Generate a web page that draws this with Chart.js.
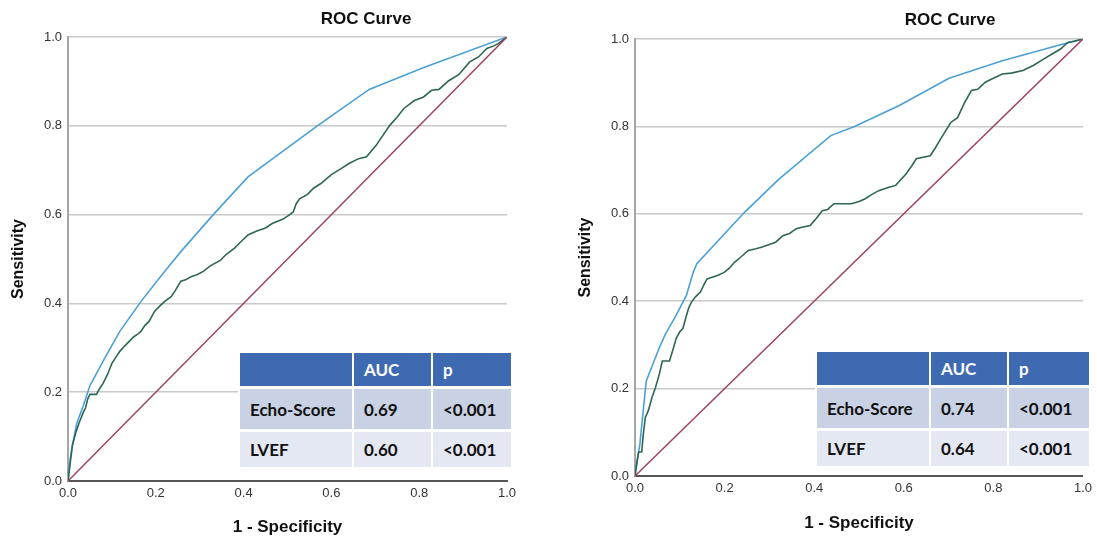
<!DOCTYPE html>
<html>
<head>
<meta charset="utf-8">
<script src="https://cdn.jsdelivr.net/npm/chart.js@4.4.1/dist/chart.umd.min.js"></script>
<style>
  body { margin: 0; background: #fff; width: 1097px; height: 539px; overflow: hidden; position: relative; }
  canvas { position: absolute; top: 0; }
  #leftChart { left: 0; }
  #rightChart { left: 567px; }
  table.auc {
    position: absolute; border-collapse: separate; border-spacing: 2px 3px; table-layout: fixed;
    font-family: Lato, "Open Sans", sans-serif; font-weight: bold; font-size: 17px;
    background: #fff; color: #111;
  }
  table.auc td { padding: 0 0 0 10px; vertical-align: middle; white-space: nowrap; overflow: hidden; }
  table.auc tr.head td { background: #3e6ab2; color: #fff; height: 33px; }
  table.auc tr.r1 td { background: #c9d1e4; height: 40px; }
  table.auc tr.r2 td { background: #e4e8f3; height: 35px; }
  #leftTable { left: 238px; top: 350px; width: 273px; }
  #rightTable { left: 815px; top: 349px; width: 274px; }
</style>
</head>
<body>
<canvas id="leftChart" width="540" height="539"></canvas>
<canvas id="rightChart" width="530" height="539"></canvas>
<table class="auc" id="leftTable"></table>
<table class="auc" id="rightTable"></table>
<script>
// reference line
const diagX = [0, 1];
const diagY = [0, 1];

// left panel, Echo-Score
const leftEchoX = [0, 0.005, 0.01, 0.02, 0.035, 0.05, 0.08, 0.118, 0.166, 0.22, 0.26, 0.331, 0.41, 0.568, 0.686, 0.812, 1];
const leftEchoY = [0, 0.05, 0.08, 0.13, 0.17, 0.215, 0.27, 0.337, 0.404, 0.472, 0.52, 0.6, 0.685, 0.8, 0.882, 0.932, 1];

// left panel, LVEF
const leftLvefX = [0, 0.005, 0.01, 0.018, 0.025, 0.035, 0.04, 0.045, 0.05, 0.065, 0.07, 0.08, 0.09, 0.1, 0.11, 0.118,
  0.13, 0.14, 0.15, 0.158, 0.166, 0.175, 0.185, 0.197, 0.21, 0.221, 0.235, 0.245, 0.257, 0.268, 0.28, 0.295, 0.308,
  0.325, 0.347, 0.36, 0.38, 0.395, 0.41, 0.43, 0.45, 0.465, 0.49, 0.505, 0.513, 0.52, 0.528, 0.545, 0.56, 0.576,
  0.6, 0.623, 0.64, 0.662, 0.68, 0.702, 0.715, 0.733, 0.75, 0.765, 0.789, 0.81, 0.828, 0.845, 0.868, 0.89, 0.915,
  0.935, 0.954, 0.97, 0.98, 1];
const leftLvefY = [0, 0.04, 0.08, 0.11, 0.13, 0.155, 0.165, 0.185, 0.195, 0.195, 0.205, 0.22, 0.24, 0.265, 0.28, 0.292,
  0.305, 0.315, 0.325, 0.33, 0.337, 0.35, 0.36, 0.382, 0.395, 0.405, 0.415, 0.43, 0.45, 0.453, 0.46, 0.465, 0.472,
  0.485, 0.497, 0.51, 0.525, 0.54, 0.554, 0.563, 0.57, 0.58, 0.59, 0.6, 0.606, 0.625, 0.636, 0.645, 0.66, 0.67,
  0.69, 0.704, 0.715, 0.726, 0.73, 0.756, 0.775, 0.801, 0.82, 0.839, 0.857, 0.865, 0.88, 0.882, 0.902, 0.915, 0.944,
  0.955, 0.974, 0.98, 0.985, 1];

// right panel, Echo-Score
const rightEchoX = [0, 0.011, 0.025, 0.054, 0.069, 0.092, 0.115, 0.13, 0.138, 0.245, 0.322, 0.437, 0.49, 0.59, 0.701, 0.82, 0.958, 1];
const rightEchoY = [0, 0.074, 0.217, 0.293, 0.327, 0.368, 0.414, 0.466, 0.486, 0.604, 0.68, 0.779, 0.8, 0.848, 0.91, 0.95, 0.989, 1];

// right panel, LVEF
const rightLvefX = [0, 0.004, 0.008, 0.015, 0.018, 0.023, 0.03, 0.038, 0.045, 0.054, 0.061, 0.077, 0.085, 0.092, 0.1,
  0.107, 0.115, 0.12, 0.126, 0.135, 0.146, 0.155, 0.161, 0.172, 0.184, 0.199, 0.21, 0.222, 0.235, 0.253, 0.27, 0.284,
  0.3, 0.314, 0.33, 0.345, 0.36, 0.375, 0.391, 0.405, 0.418, 0.43, 0.444, 0.483, 0.5, 0.513, 0.53, 0.544, 0.565,
  0.582, 0.595, 0.605, 0.618, 0.628, 0.659, 0.67, 0.682, 0.705, 0.72, 0.736, 0.751, 0.765, 0.782, 0.8, 0.82, 0.84,
  0.866, 0.89, 0.912, 0.93, 0.95, 0.966, 0.98, 1];
const rightLvefY = [0, 0.03, 0.055, 0.055, 0.09, 0.134, 0.15, 0.18, 0.2, 0.232, 0.263, 0.263, 0.29, 0.315, 0.33,
  0.338, 0.368, 0.385, 0.398, 0.41, 0.421, 0.44, 0.451, 0.455, 0.459, 0.466, 0.475, 0.489, 0.5, 0.516, 0.52, 0.524,
  0.53, 0.535, 0.55, 0.555, 0.566, 0.57, 0.573, 0.59, 0.607, 0.61, 0.623, 0.623, 0.628, 0.634, 0.645, 0.653, 0.66,
  0.665, 0.68, 0.691, 0.71, 0.726, 0.733, 0.75, 0.771, 0.809, 0.82, 0.855, 0.882, 0.885, 0.901, 0.91, 0.92, 0.922,
  0.928, 0.94, 0.954, 0.965, 0.977, 0.992, 0.995, 1];

// table contents
const tableHead = ["", "AUC", "p"];
const markers = ["Echo-Score", "LVEF"];
const leftAuc = ["0.69", "0.60"];
const rightAuc = ["0.74", "0.64"];
const pValues = ["<0.001", "<0.001"];

const pairs = (xs, ys) => xs.map((x, i) => ({ x: x, y: ys[i] }));

const headline = {
  id: "headline",
  afterDraw(chart, args, opts) {
    const ctx = chart.ctx;
    ctx.save();
    ctx.font = "bold 17px 'Liberation Sans', Arial, sans-serif";
    ctx.fillStyle = "#111";
    ctx.textAlign = "center";
    ctx.textBaseline = "middle";
    ctx.fillText(opts.text, opts.x, opts.y);
    ctx.restore();
  }
};

function rocChart(id, echoX, echoY, lvefX, lvefY, pad, axisH, titlePos) {
  const tickFont = { family: "'Liberation Sans', Arial, sans-serif", size: 13 };
  return new Chart(document.getElementById(id), {
    type: "scatter",
    data: {
      datasets: [
        { label: "Reference", data: pairs(diagX, diagY), borderColor: "#9c4262", borderWidth: 1.5 },
        { label: "LVEF", data: pairs(lvefX, lvefY), borderColor: "#2f6653", borderWidth: 1.6 },
        { label: "Echo-Score", data: pairs(echoX, echoY), borderColor: "#4ba0d6", borderWidth: 1.6 }
      ].map(d => Object.assign(d, { showLine: true, pointRadius: 0, tension: 0, fill: false }))
    },
    options: {
      responsive: false,
      animation: false,
      layout: { padding: pad },
      plugins: {
        legend: { display: false },
        tooltip: { enabled: false },
        headline: { text: "ROC Curve", x: titlePos[0], y: titlePos[1] }
      },
      scales: {
        x: {
          type: "linear", min: 0, max: 1,
          afterFit: s => { s.height = axisH; },
          grid: { color: "rgba(0,0,0,0)", drawTicks: false },
          border: { display: true, color: "#555", width: 2 },
          ticks: { stepSize: 0.2, padding: 5, maxRotation: 0, font: tickFont, color: "#333",
                   callback: v => v.toFixed(1) },
          title: { display: true, text: "1 - Specificity", color: "#111",
                   font: { family: "'Liberation Sans', Arial, sans-serif", size: 17, weight: "bold" },
                   padding: { top: 0, bottom: 1 } }
        },
        y: {
          type: "linear", min: 0, max: 1,
          afterFit: s => { s.width = 68; },
          grid: { color: "#c9c9c9", lineWidth: 1.5, drawTicks: false },
          border: { display: true, color: "#a6a6a6", width: 2 },
          ticks: { stepSize: 0.2, padding: 6, font: tickFont, color: "#333",
                   callback: v => v.toFixed(1) },
          title: { display: true, text: "Sensitivity", color: "#111",
                   font: { family: "'Liberation Sans', Arial, sans-serif", size: 16, weight: "bold" },
                   padding: { top: 9, bottom: 0 } }
        }
      }
    },
    plugins: [headline]
  });
}

function fillTable(id, auc) {
  const t = document.getElementById(id);
  const widths = id === "leftTable" ? [112, 77, 78] : [112, 76, 80];
  let html = '<colgroup>' + widths.map(w => '<col style="width:' + w + 'px">').join("") + '</colgroup>';
  html += '<tr class="head">' + tableHead.map(h => '<td>' + h + '</td>').join("") + '</tr>';
  markers.forEach((m, i) => {
    html += '<tr class="r' + (i + 1) + '"><td>' + m + '</td><td>' + auc[i] + '</td><td>' +
      pValues[i].replace("<", "&lt;") + '</td></tr>';
  });
  t.innerHTML = html;
}

rocChart("leftChart", leftEchoX, leftEchoY, leftLvefX, leftLvefY,
  { left: 0, top: 37, right: 33, bottom: 0 }, 58, [366, 19]);
rocChart("rightChart", rightEchoX, rightEchoY, rightLvefX, rightLvefY,
  { left: 0, top: 39, right: 13, bottom: 4 }, 59, [383, 20]);
fillTable("leftTable", leftAuc);
fillTable("rightTable", rightAuc);
</script>
</body>
</html>
